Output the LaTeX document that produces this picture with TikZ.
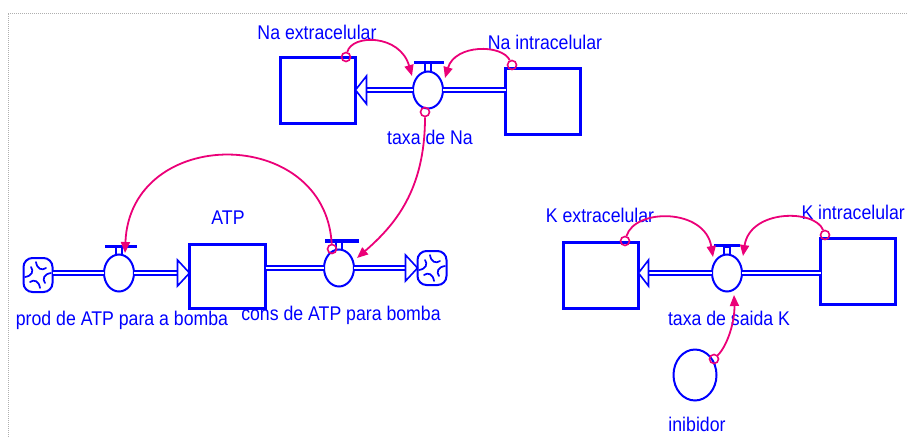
\documentclass[tikz,border=0pt]{standalone}
\usepackage{fontspec}
\setmainfont{Liberation Sans}
\usetikzlibrary{shapes.geometric,arrows.meta,calc}
\definecolor{vblue}{RGB}{0,0,255}
\definecolor{vpink}{RGB}{235,0,120}
\definecolor{vgray}{RGB}{175,175,175}
\newcommand\lbtext[1]{\scalebox{1}[1.12]{#1}}
\begin{document}
\begin{tikzpicture}[x=1pt,y=-1pt,
  stock/.style={draw=vblue, line width=3pt, minimum width=75pt, minimum height=66pt, inner sep=0pt, outer sep=0pt},
  valve/.style={draw=vblue, line width=2pt, ellipse, minimum width=30pt, minimum height=37pt, inner sep=0pt, outer sep=0pt},
  aux/.style={draw=vblue, line width=2pt, ellipse, minimum width=43pt, minimum height=51pt, inner sep=0pt, outer sep=0pt},
  pipe/.style={draw=vblue, line width=1.8pt, double=white, double distance=2.8pt},
  flowhead/.style={draw=vblue, line width=1.6pt, fill=white, line join=miter},
  valvebar/.style={draw=vblue, line width=3.5pt},
  stem/.style={draw=vblue, line width=1.5pt},
  lbl/.style={text=vblue, font=\fontsize{17.7}{20}\selectfont, inner sep=0pt},
  link/.style={draw=vpink, line width=1.8pt, -{Triangle[length=11pt,width=9pt]}},
  srcdot/.style={draw=vpink, line width=1.6pt, circle, minimum size=9pt, inner sep=0pt},
  cloudshape/.style={draw=vblue, line width=2pt, rectangle, rounded corners=9pt, minimum width=29pt, minimum height=34pt, inner sep=0pt, outer sep=0pt},
  swirl/.style={draw=vblue, line width=1.7pt, line cap=round},
  cloudpic/.pic={
    \node[cloudshape] (-c) at (0,0) {};
    \foreach \a in {0,90,180,270}{
      \draw[swirl, rotate=\a] (13,-2) .. controls (6,-1) and (4,4) .. (7,8);
    }
  },
]
\useasboundingbox (0,0) rectangle (907,437);
% frame
\draw[vgray, line width=1pt, dash pattern=on 1pt off 1pt] (8,437) -- (8,13) -- (907,13);

% ---------- Na section ----------
\node[stock] (NaExt) at (318,90.5) {};
\node[stock] (NaInt) at (543,101.5) {};
\node[valve] (NaV) at (428,90) {};
\draw[pipe] (NaInt.west |- NaV.center) -- (NaV.east);
\draw[pipe] (NaV.west) -- ($(NaExt.east |- NaV.center)+(11,0)$);
\draw[flowhead] (NaExt.east |- NaV.center) -- ++(11,-14) -- ++(0,28) -- cycle;
\draw[stem] ($(NaV.north)+(-3,-8)$) rectangle ($(NaV.north)+(3,0)$);
\draw[valvebar] ($(NaV.north)+(-14,-9)$) -- ++(30,0);
\node[lbl] (lNaExt) at (317,32) {\lbtext{Na extracelular}};
\node[lbl] (lNaInt) at (545,42) {\lbtext{Na intracelular}};
\node[lbl] (lNaV) at (430,137) {\lbtext{taxa de Na}};

% ---------- ATP section ----------
\pic (cloudL) at (38,275) {cloudpic};
\pic (cloudR) at (432,268) {cloudpic};
\node[valve] (V1) at (119,273) {};
\node[stock, minimum width=76pt, minimum height=64pt] (ATP) at (227.5,276.5) {};
\node[valve] (V2) at (339,268) {};
\draw[pipe] (cloudL-c.east |- V1.center) -- (V1.west);
\draw[pipe] (V1.east) -- ($(ATP.west |- V1.center)+(-12,0)$);
\draw[flowhead] (ATP.west |- V1.center) -- ++(-12,-13) -- ++(0,26) -- cycle;
\draw[pipe] (ATP.east |- V2.center) -- (V2.west);
\draw[pipe] (V2.east) -- ($(cloudR-c.west |- V2.center)+(-12,0)$);
\draw[flowhead] (cloudR-c.west |- V2.center) -- ++(-12,-13) -- ++(0,26) -- cycle;
\draw[stem] ($(V1.north)+(-3,-7)$) rectangle ($(V1.north)+(3,0)$);
\draw[valvebar] ($(V1.north)+(-14,-8)$) -- ++(32,0);
\draw[stem] ($(V2.north)+(-3,-7)$) rectangle ($(V2.north)+(3,0)$);
\draw[valvebar] ($(V2.north)+(-14,-8.5)$) -- ++(34,0);
\node[lbl] (lATP) at (228,218) {\lbtext{ATP}};
\node[lbl] (lV1) at (122,320) {\lbtext{prod de ATP para a bomba}};
\node[lbl] (lV2) at (341,315) {\lbtext{cons de ATP para bomba}};

% ---------- K section ----------
\node[stock] (KExt) at (601,275) {};
\node[stock] (KInt) at (858,271) {};
\node[valve] (KV) at (727,273) {};
\node[aux] (Inib) at (695,375) {};
\draw[pipe] (KInt.west |- KV.center) -- (KV.east);
\draw[pipe] (KV.west) -- ($(KExt.east |- KV.center)+(10,0)$);
\draw[flowhead] (KExt.east |- KV.center) -- ++(10,-13) -- ++(0,26) -- cycle;
\draw[stem] ($(KV.north)+(-3,-7)$) rectangle ($(KV.north)+(3,0)$);
\draw[valvebar] ($(KV.north)+(-13,-9)$) -- ++(26,0);
\node[lbl] (lKExt) at (600,215) {\lbtext{K extracelular}};
\node[lbl, anchor=east] (lKInt) at (905,212) {\lbtext{K intracelular}};
\node[lbl] (lKV) at (729,318) {\lbtext{taxa de saida K}};
\node[lbl] (lInib) at (697,424) {\lbtext{inibidor}};

% ---------- links ----------
\node[srcdot] (s1) at (346,57) {};
\node[srcdot] (s2) at (512,65) {};
\node[srcdot] (s3) at (425,112) {};
\node[srcdot] (s4) at (332,249) {};
\node[srcdot] (s5) at (625,241) {};
\node[srcdot] (s6) at (825,235) {};
\node[srcdot] (s7) at (714,359) {};
\coordinate (t1) at (412,76);
\coordinate (t2) at (445,78);
\coordinate (t3) at (357,258);
\coordinate (t4) at (125,253);
\coordinate (t5) at (713,257);
\coordinate (t6) at (743,256);
\coordinate (t7) at (734,295);
\draw[link] (s1) .. controls (352,34) and (400,34) .. (t1);
\draw[link] (s2) .. controls (502,44) and (455,44) .. (t2);
\draw[link] (s3) .. controls (425,190) and (395,225) .. (t3);
\draw[link] (s4) .. controls (325,125) and (130,125) .. (t4);
\draw[link] (s5) .. controls (635,208) and (705,208) .. (t5);
\draw[link] (s6) .. controls (815,209) and (750,209) .. (t6);
\draw[link] (s7) .. controls (728,345) and (735,320) .. (t7);
\end{tikzpicture}
\end{document}
